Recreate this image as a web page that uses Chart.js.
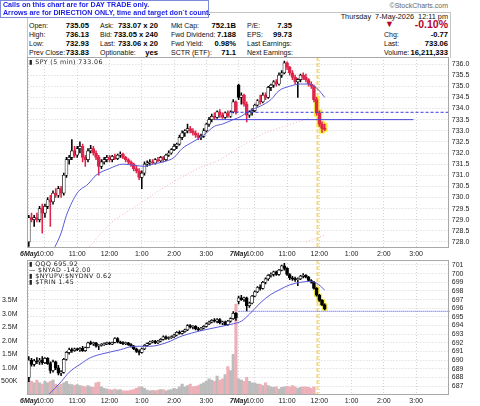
<!DOCTYPE html>
<html>
<head>
<meta charset="utf-8">
<script src="https://cdn.jsdelivr.net/npm/chart.js@4.4.1/dist/chart.umd.min.js"></script>
<style>
  body { margin: 0; background: #fff; font-family: "Liberation Sans", Arial, sans-serif; }
  #wrap { position: relative; width: 480px; height: 406px; overflow: hidden; }
  .t { position: absolute; font-size: 7px; line-height: 9px; color: #111; white-space: nowrap; }
  .v { position: absolute; font-size: 7.6px; line-height: 9px; font-weight: bold; color: #000; white-space: nowrap; text-align: right; }
  .red { color: #b8002c; }
  #note { position: absolute; left: 0; top: 0; width: 205px; height: 16px; border: 1px solid #7d8ad8; background: #fff;
          color: #1f22e6; font-weight: bold; font-size: 7.1px; line-height: 8px; padding-left: 2px; z-index: 3; white-space: nowrap; }
  #hdrbox { position: absolute; left: 27px; top: 12px; width: 422px; height: 45px; border: 1px solid #c4c4c4; border-bottom: none; }
  .leg { position: absolute; font-family: "DejaVu Sans", sans-serif; font-size: 6.3px; line-height: 7px; color: #222; white-space: nowrap; letter-spacing: 0.4px; }
  canvas { position: absolute; left: 0; }
</style>
</head>
<body>
<div id="wrap">
  <div id="note">Calls on this chart are for DAY TRADE only.<br>Arrows are for DIRECTION ONLY, time and target don`t count.</div>
  <div class="t" style="right:32px; top:1px; color:#666;">&copy;StockCharts.com</div>
  <div id="hdrbox"></div>
  <div class="t" style="right:32px; top:12px; font-size:7.3px;">Thursday&nbsp; 7-May-2026&nbsp; 12:11 pm</div>

  <div class="t" style="left:29px; top:21px;">Open:</div>
  <div class="t" style="left:29px; top:30px;">High:</div>
  <div class="t" style="left:29px; top:39px;">Low:</div>
  <div class="t" style="left:29px; top:48px;">Prev Close:</div>
  <div class="v" style="right:391px; top:21px;">735.05</div>
  <div class="v" style="right:391px; top:30px;">736.13</div>
  <div class="v" style="right:391px; top:39px;">732.93</div>
  <div class="v" style="right:391px; top:48px;">733.83</div>

  <div class="t" style="left:100px; top:21px;">Ask:</div>
  <div class="t" style="left:100px; top:30px;">Bid:</div>
  <div class="t" style="left:100px; top:39px;">Last:</div>
  <div class="t" style="left:100px; top:48px;">Optionable:</div>
  <div class="v" style="right:322px; top:21px;">733.07 x 20</div>
  <div class="v" style="right:322px; top:30px;">733.05 x 240</div>
  <div class="v" style="right:322px; top:39px;">733.06 x 20</div>
  <div class="v" style="right:322px; top:48px;">yes</div>

  <div class="t" style="left:171px; top:21px;">Mkt Cap:</div>
  <div class="t" style="left:171px; top:30px;">Fwd Dividend:</div>
  <div class="t" style="left:171px; top:39px;">Fwd Yield:</div>
  <div class="t" style="left:171px; top:48px;">SCTR (ETF):</div>
  <div class="v" style="right:244px; top:21px;">752.1B</div>
  <div class="v" style="right:244px; top:30px;">7.188</div>
  <div class="v" style="right:244px; top:39px;">0.98%</div>
  <div class="v" style="right:244px; top:48px;">71.1</div>

  <div class="t" style="left:247px; top:21px;">P/E:</div>
  <div class="t" style="left:247px; top:30px;">EPS:</div>
  <div class="t" style="left:247px; top:39px;">Last Earnings:</div>
  <div class="t" style="left:247px; top:48px;">Next Earnings:</div>
  <div class="v" style="right:188px; top:21px;">7.35</div>
  <div class="v" style="right:188px; top:30px;">99.73</div>

  <div class="t red" style="left:385px; top:20px; font-size:9px;">&#9660;</div>
  <div class="v red" style="right:32px; top:19px; font-size:10.5px; line-height:11px;">-0.10%</div>
  <div class="t" style="left:384px; top:30px;">Chg:</div>
  <div class="t" style="left:384px; top:39px;">Last:</div>
  <div class="t" style="left:384px; top:48px;">Volume:</div>
  <div class="v" style="right:32px; top:30px;">-0.77</div>
  <div class="v" style="right:32px; top:39px;">733.06</div>
  <div class="v" style="right:32px; top:48px;">16,211,333</div>

  <canvas id="prix" width="480" height="202" style="top:57px;"></canvas>
  <canvas id="bas" width="480" height="147" style="top:259px;"></canvas>

  <div class="leg" style="left:29px; top:58px;">&#9646;&nbsp;SPY (5 min) 733.06</div>
  <div class="leg" style="left:29px; top:260px;">&#9646;&nbsp;QQQ 695.92</div>
  <div class="leg" style="left:29px; top:266px;">&mdash;&nbsp;$NYAD -142.00</div>
  <div class="leg" style="left:29px; top:272px;">&#9646;&nbsp;$NYUPV:$NYDNV 0.62</div>
  <div class="leg" style="left:29px; top:278px;">&#9646;&nbsp;$TRIN 1.45</div>
</div>

<script>
// Graduations de l'axe du temps (indice de la bougie de 5 min)
const hourTicks = [0, 6, 18, 30, 42, 54, 66, 78, 84, 96, 108, 120, 132, 144];
const hourText = ['6May', '10:00', '11:00', '12:00', '1:00', '2:00', '3:00', '7May', '10:00', '11:00', '12:00', '1:00', '2:00', '3:00'];
const dayTicks = [0, 78];

// Graduations des axes verticaux
const spyTicks = [728.0, 728.5, 729.0, 729.5, 730.0, 730.5, 731.0, 731.5, 732.0, 732.5, 733.0, 733.5, 734.0, 734.5, 735.0, 735.5, 736.0];
const qqqTicks = [687, 688, 689, 690, 691, 692, 693, 694, 695, 696, 697, 698, 699, 700, 701];
const volTicks = [0.5, 1.0, 1.5, 2.0, 2.5, 3.0, 3.5];

// SPY 5 min : [ouverture, haut, bas, clôture]
const spyBars = [
  [728.0, 729.2, 727.8, 729.1], [729.1, 729.3, 728.9, 729.0], [729.0, 729.2, 728.7, 729.1], [729.1, 729.3, 728.9, 729.0],
  [729.0, 729.6, 728.9, 729.5], [729.5, 729.7, 728.4, 729.3], [729.3, 729.7, 729.1, 729.6], [729.6, 730.0, 729.5, 729.9],
  [729.9, 730.1, 728.7, 729.8], [729.8, 730.3, 729.7, 730.2], [730.2, 730.4, 730.0, 730.1], [730.1, 730.5, 730.0, 730.4],
  [730.4, 730.5, 730.0, 730.2], [730.2, 731.1, 730.1, 731.0], [731.0, 731.8, 730.9, 731.7], [731.7, 731.9, 731.5, 731.8],
  [731.8, 732.6, 731.7, 732.1], [732.1, 732.3, 731.8, 731.9], [731.9, 732.3, 731.8, 732.2], [732.2, 732.5, 732.0, 732.3],
  [732.3, 732.4, 731.6, 731.8], [731.8, 731.9, 731.4, 731.7], [731.7, 732.2, 731.6, 732.1], [732.1, 732.35, 732.0, 732.2],
  [732.2, 732.3, 731.9, 732.0], [732.0, 732.1, 731.7, 731.8], [731.8, 731.9, 731.0, 731.4], [731.4, 731.7, 731.3, 731.6],
  [731.6, 731.8, 731.5, 731.7], [731.7, 731.9, 731.6, 731.8], [731.8, 731.9, 731.6, 731.7], [731.7, 731.9, 731.6, 731.85],
  [731.85, 731.95, 731.7, 731.75], [731.75, 731.95, 731.7, 731.9], [731.9, 732.05, 731.8, 731.95], [731.95, 732.0, 731.75, 731.8],
  [731.8, 731.85, 731.6, 731.7], [731.7, 731.75, 731.5, 731.6], [731.6, 731.65, 731.4, 731.5], [731.5, 731.55, 731.2, 731.3],
  [731.3, 731.4, 731.1, 731.2], [731.2, 731.3, 730.8, 730.9], [730.9, 731.2, 730.4, 731.1], [731.1, 731.6, 731.0, 731.5],
  [731.5, 731.65, 731.4, 731.55], [731.55, 731.7, 731.45, 731.6], [731.6, 731.7, 731.5, 731.55], [731.55, 731.75, 731.5, 731.7],
  [731.7, 731.8, 731.6, 731.65], [731.65, 731.85, 731.6, 731.8], [731.8, 731.85, 731.6, 731.7], [731.7, 731.95, 731.65, 731.9],
  [731.9, 732.1, 731.85, 732.0], [732.0, 732.2, 731.95, 732.15], [732.15, 732.4, 732.1, 732.3], [732.3, 732.45, 732.2, 732.4],
  [732.4, 732.8, 732.35, 732.7], [732.7, 733.0, 732.6, 732.9], [732.9, 733.05, 732.75, 733.0], [733.0, 733.3, 732.9, 733.1],
  [733.1, 733.2, 732.9, 733.0], [733.0, 733.1, 732.8, 732.9], [732.9, 733.0, 732.7, 732.8], [732.8, 732.9, 732.6, 732.7],
  [732.7, 732.85, 732.6, 732.75], [732.75, 733.1, 732.7, 733.0], [733.0, 733.35, 732.95, 733.3], [733.3, 733.6, 733.2, 733.5],
  [733.5, 733.75, 733.4, 733.65], [733.65, 733.8, 733.5, 733.6], [733.6, 733.9, 733.55, 733.85], [733.85, 733.95, 733.6, 733.7],
  [733.7, 733.8, 733.55, 733.6], [733.6, 733.85, 733.55, 733.8], [733.8, 733.9, 733.6, 733.65], [733.65, 733.9, 733.6, 733.85],
  [733.85, 734.4, 733.8, 734.3], [734.3, 734.35, 733.75, 733.83],
  // 7 mai
  [735.05, 735.1, 734.4, 734.5], [734.5, 734.7, 734.2, 734.6], [734.6, 734.65, 734.1, 734.2], [734.2, 734.3, 733.4, 733.7],
  [733.7, 733.9, 733.6, 733.85], [733.85, 734.0, 733.7, 733.9], [733.9, 734.2, 733.85, 734.15], [734.15, 734.4, 734.1, 734.35],
  [734.35, 734.6, 734.2, 734.3], [734.3, 734.7, 734.25, 734.6], [734.6, 734.7, 734.4, 734.5], [734.5, 735.0, 734.45, 734.95],
  [734.95, 735.1, 734.8, 735.05], [735.05, 735.25, 734.95, 735.2], [735.2, 735.3, 735.0, 735.1], [735.1, 735.6, 735.05, 735.5],
  [735.5, 735.7, 735.4, 735.6], [735.6, 736.13, 735.55, 736.05], [736.05, 736.1, 735.75, 735.85], [735.85, 735.9, 735.5, 735.6],
  [735.6, 735.7, 735.3, 735.4], [735.4, 735.5, 735.1, 735.2], [735.2, 735.35, 734.5, 735.3], [735.3, 735.55, 735.2, 735.5],
  [735.5, 735.6, 735.3, 735.4], [735.4, 735.55, 735.2, 735.3], [735.3, 735.35, 735.0, 735.1], [735.1, 735.2, 734.9, 735.0],
  [735.0, 735.05, 734.3, 734.4], [734.4, 734.5, 733.7, 733.8], [733.8, 733.9, 733.2, 733.3], [733.3, 733.4, 732.93, 733.1],
  [733.1, 733.3, 733.0, 733.06]
];

// QQQ 5 min : [ouverture, haut, bas, clôture]
const qqqBars = [
  [688.0, 690.4, 687.5, 690.0], [690.0, 690.2, 689.3, 689.5], [689.5, 690.1, 689.3, 689.9], [689.9, 690.3, 689.6, 689.8],
  [689.8, 690.2, 689.5, 690.0], [690.0, 690.4, 689.5, 689.7], [689.7, 690.3, 689.6, 690.2], [690.2, 690.3, 689.5, 689.6],
  [689.6, 689.8, 688.5, 688.8], [688.8, 690.0, 688.6, 689.8], [689.8, 689.9, 688.9, 689.1], [689.1, 689.4, 688.3, 688.5],
  [688.5, 688.8, 688.2, 688.6], [688.6, 690.2, 688.5, 690.1], [690.1, 691.0, 690.0, 690.9], [690.9, 691.4, 690.7, 691.2],
  [691.2, 691.4, 690.9, 691.1], [691.1, 691.4, 691.0, 691.3], [691.3, 691.4, 691.1, 691.2], [691.2, 691.45, 691.0, 691.35],
  [691.35, 691.6, 691.0, 691.1], [691.1, 691.5, 691.0, 691.45], [691.45, 692.1, 691.4, 692.0], [692.0, 692.2, 691.8, 691.9],
  [691.9, 692.1, 691.7, 692.0], [692.0, 692.05, 691.5, 691.6], [691.6, 691.8, 691.2, 691.7], [691.7, 691.9, 691.6, 691.8],
  [691.8, 692.0, 691.7, 691.9], [691.9, 692.1, 691.8, 692.0], [692.0, 692.1, 691.8, 691.85], [691.85, 692.1, 691.8, 692.05],
  [692.05, 692.6, 692.0, 692.5], [692.5, 692.6, 692.0, 692.1], [692.1, 692.2, 691.9, 692.0], [692.0, 692.15, 691.8, 691.9],
  [691.9, 692.1, 691.8, 692.0], [692.0, 692.05, 691.7, 691.8], [691.8, 691.9, 691.5, 691.6], [691.6, 691.7, 691.2, 691.3],
  [691.3, 691.4, 690.9, 691.0], [691.0, 691.2, 690.6, 690.9], [690.9, 691.4, 690.8, 691.3], [691.3, 691.8, 691.2, 691.7],
  [691.7, 692.0, 691.6, 691.9], [691.9, 692.2, 691.8, 692.1], [692.1, 692.3, 692.0, 692.2], [692.2, 692.3, 691.9, 692.0],
  [692.0, 692.3, 691.9, 692.2], [692.2, 692.5, 692.1, 692.4], [692.4, 692.8, 692.3, 692.7], [692.7, 692.8, 692.4, 692.5],
  [692.5, 692.7, 692.4, 692.6], [692.6, 692.8, 692.5, 692.7], [692.7, 693.0, 692.6, 692.9], [692.9, 693.3, 692.8, 693.2],
  [693.2, 693.4, 693.0, 693.1], [693.1, 693.4, 693.0, 693.3], [693.3, 693.6, 693.2, 693.5], [693.5, 694.1, 693.4, 694.0],
  [694.0, 694.1, 693.7, 693.8], [693.8, 694.0, 693.6, 693.9], [693.9, 694.0, 693.5, 693.6], [693.6, 693.8, 693.4, 693.5],
  [693.5, 693.8, 693.4, 693.7], [693.7, 694.0, 693.6, 693.9], [693.9, 694.3, 693.8, 694.2], [694.2, 694.5, 694.1, 694.4],
  [694.4, 694.7, 694.3, 694.6], [694.6, 694.8, 694.4, 694.5], [694.5, 694.8, 694.3, 694.7], [694.7, 694.8, 694.2, 694.3],
  [694.3, 694.5, 694.1, 694.4], [694.4, 694.5, 694.0, 694.1], [694.1, 694.6, 694.0, 694.5], [694.5, 694.9, 694.4, 694.8],
  [694.8, 695.6, 694.7, 695.4], [695.4, 695.5, 694.6, 694.9],
  // 7 mai
  [696.8, 697.4, 696.5, 697.2], [697.2, 697.5, 696.9, 697.0], [697.0, 697.3, 696.8, 697.2], [697.2, 697.3, 695.7, 696.3],
  [696.3, 696.7, 696.1, 696.6], [696.6, 697.5, 696.5, 697.4], [697.4, 698.0, 697.3, 697.9], [697.9, 698.5, 697.8, 698.4],
  [698.4, 698.7, 698.1, 698.3], [698.3, 699.1, 698.2, 699.0], [699.0, 699.5, 698.8, 699.4], [699.4, 699.9, 699.2, 699.8],
  [699.8, 700.1, 699.6, 699.9], [699.9, 700.3, 699.7, 700.2], [700.2, 700.3, 699.8, 699.9], [699.9, 700.5, 699.8, 700.4],
  [700.4, 701.0, 700.3, 700.9], [700.9, 701.2, 700.4, 700.6], [700.6, 700.7, 699.8, 699.9], [699.9, 700.0, 699.3, 699.5],
  [699.5, 699.7, 699.2, 699.4], [699.4, 699.6, 699.1, 699.3], [699.3, 699.5, 698.6, 699.4], [699.4, 699.8, 699.3, 699.7],
  [699.7, 700.0, 699.5, 699.8], [699.8, 699.9, 699.5, 699.6], [699.6, 699.7, 699.1, 699.2], [699.2, 699.3, 698.9, 699.0],
  [699.0, 699.1, 698.2, 698.3], [698.3, 698.4, 697.4, 697.5], [697.5, 697.6, 696.8, 696.9], [696.9, 697.0, 696.3, 696.4],
  [696.4, 696.5, 695.8, 695.92]
];

// Volume (millions d'actions) par bougie
const volume = [
  1.2, 0.5, 0.45, 0.55, 0.45, 0.4, 0.5, 0.45, 0.5, 0.55,
  0.4, 0.35, 0.4, 0.45, 0.5, 0.4, 0.38, 0.35, 0.38, 0.35,
  0.33, 0.3, 0.35, 0.3, 0.28, 0.45, 0.48, 0.3, 0.25, 0.22,
  0.2, 0.18, 0.22, 0.18, 0.2, 0.15, 0.15, 0.15, 0.18, 0.2,
  0.25, 0.3, 0.3, 0.25, 0.18, 0.15, 0.17, 0.15, 0.18, 0.2,
  0.2, 0.15, 0.18, 0.2, 0.25, 0.22, 0.3, 0.4, 0.3, 0.35,
  0.4, 0.3, 0.32, 0.35, 0.4, 0.45, 0.5, 0.6, 0.55, 0.5,
  0.7, 0.55, 0.6, 0.75, 1.05, 0.9, 1.5, 3.35,
  0.6, 0.55, 0.5, 0.65, 0.5, 0.45, 0.45, 0.4, 0.4, 0.35,
  0.45, 0.35, 0.3, 0.28, 0.3, 0.22, 0.28, 0.3, 0.32, 0.3,
  0.35, 0.3, 0.25, 0.28, 0.3, 0.3, 0.28, 0.25, 0.3
];

// Moyennes mobiles : [indice, valeur]
const spySma = [[9, 727.6], [12, 728.4], [14, 729.2], [18, 730.2], [22, 730.6], [25, 731.0], [30, 731.3], [35, 731.5],
  [39, 731.45], [43, 731.4], [46, 731.5], [50, 731.6], [54, 731.8], [57, 732.2], [61, 732.5], [65, 732.8], [69, 733.2],
  [72, 733.3], [76, 733.5], [79, 733.65], [82, 733.9], [86, 734.1], [90, 734.4], [93, 734.8], [97, 735.0], [101, 735.1],
  [104, 735.1], [106, 735.0], [108, 734.8], [110, 734.5]];
const spySlow = [[22, 727.7], [30, 728.8], [41, 729.7], [51, 730.5], [63, 731.3], [71, 731.7], [79, 732.3], [86, 732.8],
  [95, 733.2], [104, 733.55]];
const spySlow2 = [[103, 728.0], [110, 728.3]];
const qqqSma = [[7, 685.9], [12, 687.5], [15, 688.6], [19, 689.5], [23, 690.3], [27, 690.7], [34, 691.2], [39, 691.6],
  [45, 691.6], [51, 692.0], [57, 692.8], [64, 693.4], [70, 693.8], [76, 694.2], [79, 694.5], [82, 695.3], [86, 696.6],
  [90, 697.6], [93, 698.1], [97, 698.7], [101, 699.0], [105, 699.1], [107, 698.9], [110, 698.1]];

// Niveaux horizontaux : [indice début, indice fin, valeur]
const levelLine = [69, 143, 733.5];
const prevCloseLine = [75, 156.5, 733.83];
const qqqLevel = [78, 156.5, 695.64];
const markerBar = 107;

const RED = '#e0244a';
const GRID = '#d4d4d4';
Chart.defaults.font.family = '"Liberation Sans", Arial, sans-serif';
Chart.defaults.color = '#222';

// Cadre du graphique et ligne verticale jaune
const framePlugin = {
  id: 'cadre',
  beforeDatasetsDraw(chart) {
    const {ctx, chartArea, scales} = chart;
    const x = Math.round(scales.x.getPixelForValue(markerBar)) + 0.5;
    ctx.save();
    ctx.strokeStyle = '#f6d878';
    ctx.lineWidth = 2;
    ctx.setLineDash([4, 2]);
    ctx.beginPath();
    ctx.moveTo(x, chartArea.top);
    ctx.lineTo(x, chartArea.bottom);
    ctx.stroke();
    ctx.restore();
  },
  afterDraw(chart) {
    const {ctx, chartArea} = chart;
    ctx.save();
    ctx.strokeStyle = '#a8a8a8';
    ctx.lineWidth = 1;
    ctx.strokeRect(Math.round(chartArea.left) + 0.5, Math.round(chartArea.top) + 0.5,
      Math.round(chartArea.width) - 1, Math.round(chartArea.height) - 1);
    ctx.restore();
  }
};

function candleColor(bars, i, red) {
  const prev = i > 0 ? bars[i - 1][3] : bars[i][0];
  return bars[i][3] >= prev ? '#000' : red;
}

function candleSets(bars, yId, red) {
  const col = i => candleColor(bars, i, red);
  return [
    {
      type: 'bar', yAxisID: yId, order: 2, grouped: false,
      data: bars.map((b, i) => ({x: i, y: [b[0], b[3]]})),
      barThickness: 3, minBarLength: 1, borderSkipped: false, borderWidth: 0.7,
      borderColor: ctx => col(ctx.dataIndex),
      backgroundColor: ctx => bars[ctx.dataIndex][3] > bars[ctx.dataIndex][0] ? '#fff' : col(ctx.dataIndex)
    },
    {
      type: 'bar', yAxisID: yId, order: 3, grouped: false,
      data: bars.map((b, i) => ({x: i, y: [b[2], b[1]]})),
      barThickness: 0.9, minBarLength: 1,
      backgroundColor: ctx => col(ctx.dataIndex)
    },
    {
      type: 'bar', yAxisID: yId, order: 4, grouped: false,
      data: bars.map((b, i) => ({x: i, y: [b[2] - 0.04, b[1] + 0.04]})).filter(d => d.x >= markerBar),
      barThickness: 5, backgroundColor: '#f2ec3c'
    }
  ];
}

function lineSet(points, yId, color, width, dash) {
  return {
    type: 'line', yAxisID: yId, order: 1,
    data: points.map(p => ({x: p[0], y: p[1]})),
    borderColor: color, borderWidth: width, borderDash: dash || [],
    pointRadius: 0, tension: 0.35, cubicInterpolationMode: 'monotone'
  };
}

function levelSet(level, yId, color, dash, width) {
  return lineSet([[level[0], level[2]], [level[1], level[2]]], yId, color, width || 1, dash);
}

function timeAxis() {
  return {
    type: 'linear', min: -0.5, max: 156.5, offset: false,
    afterBuildTicks: s => { s.ticks = hourTicks.map(v => ({value: v})); },
    afterFit: s => { s.height = 11; s.paddingLeft = 0; s.paddingRight = 0; },
    ticks: {
      autoSkip: false, maxRotation: 0, padding: 2, color: '#222',
      font: ctx => dayTicks.includes(ctx.tick && ctx.tick.value) ? {size: 7, weight: 'bold', style: 'italic'} : {size: 7},
      callback: v => hourText[hourTicks.indexOf(v)]
    },
    grid: {color: GRID, drawTicks: false, offset: false},
    border: {display: false, dash: [1, 2]}
  };
}

function priceAxis(min, max, ticks, fmt) {
  return {
    type: 'linear', position: 'right', min: min, max: max,
    afterBuildTicks: s => { s.ticks = ticks.map(v => ({value: v})); },
    afterFit: s => { s.width = 30.2; s.paddingTop = 0; s.paddingBottom = 0; },
    ticks: {font: {size: 7}, padding: 2, color: '#222', autoSkip: false, callback: fmt},
    grid: {color: GRID, drawTicks: false},
    border: {display: false, dash: [1, 2]}
  };
}

const commonOptions = {
  responsive: false, animation: false, devicePixelRatio: 1,
  plugins: {legend: {display: false}, tooltip: {enabled: false}}
};

// Panneau du haut : SPY
new Chart(document.getElementById('prix'), {
  type: 'bar',
  data: {
    datasets: [
      levelSet(levelLine, 'y', '#4646d8'),
      levelSet(prevCloseLine, 'y', '#3a3ae0', [3, 2]),
      lineSet(spySma, 'y', '#5a5ad6', 1),
      lineSet(spySlow, 'y', '#f0b4bc', 1, [1, 2]),
      lineSet(spySlow2, 'y', '#f0b4bc', 1, [1, 2]),
      ...candleSets(spyBars, 'y', RED)
    ]
  },
  options: {
    ...commonOptions,
    layout: {padding: {left: 27.46, top: 0, right: 0, bottom: 0}},
    scales: {
      x: timeAxis(),
      y: priceAxis(727.73, 736.315, spyTicks, v => v.toFixed(1))
    }
  },
  plugins: [framePlugin]
});

// Panneau du bas : QQQ et volume
new Chart(document.getElementById('bas'), {
  type: 'bar',
  data: {
    datasets: [
      levelSet(qqqLevel, 'y', '#6b6bf2', [1, 1], 1.3),
      lineSet(qqqSma, 'y', '#5a5ad6', 1),
      ...candleSets(qqqBars, 'y', '#000'),
      {
        type: 'bar', yAxisID: 'yVol', order: 9, grouped: false,
        data: volume.map((v, i) => ({x: i, y: v})),
        barThickness: 2.5,
        backgroundColor: ctx => candleColor(spyBars, ctx.dataIndex, RED) === RED ? '#eeb0b8' : '#bcbcbc'
      }
    ]
  },
  options: {
    ...commonOptions,
    layout: {padding: {left: 0, top: 1, right: 0, bottom: 0}},
    scales: {
      x: timeAxis(),
      y: priceAxis(685.97, 701.574, qqqTicks, v => String(v)),
      yVol: {
        type: 'linear', position: 'left', min: 0, max: 4.98,
        afterBuildTicks: s => { s.ticks = volTicks.map(v => ({value: v})); },
        afterFit: s => { s.width = 27.46; s.paddingTop = 0; s.paddingBottom = 0; },
        ticks: {font: {size: 7}, padding: 2, color: '#222', autoSkip: false,
          callback: v => v >= 1 ? v.toFixed(1) + 'M' : Math.round(v * 1000) + 'K'},
        grid: {display: false},
        border: {display: false}
      }
    }
  },
  plugins: [framePlugin]
});
</script>
</body>
</html>
